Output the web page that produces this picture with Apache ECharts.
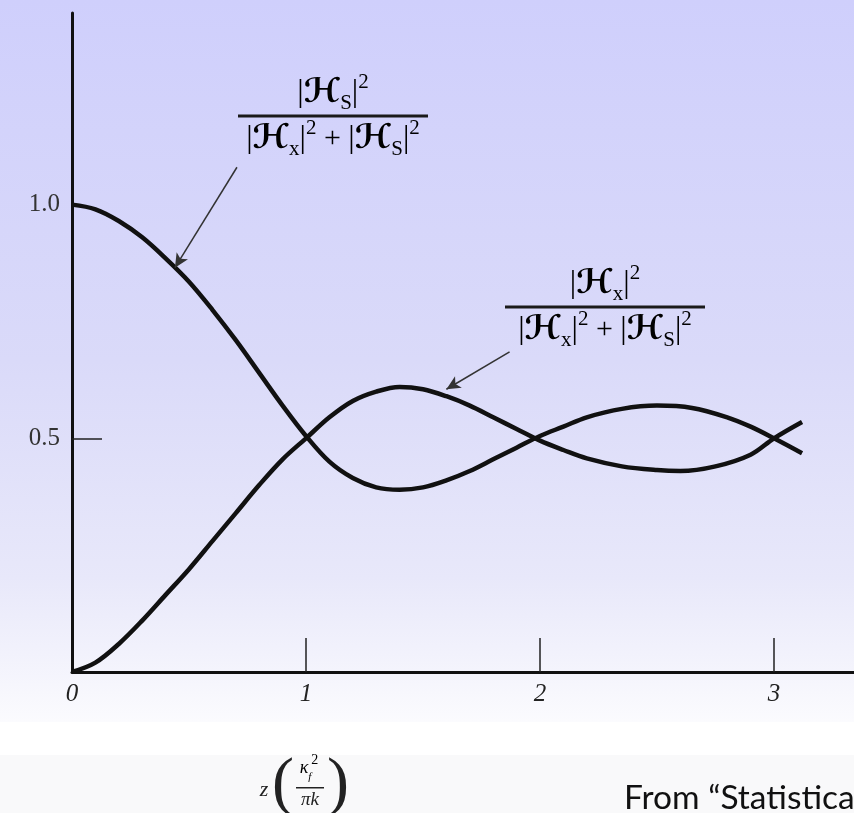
<!DOCTYPE html>
<html>
<head>
<meta charset="utf-8">
<script src="https://cdn.jsdelivr.net/npm/echarts@6/dist/echarts.min.js"></script>
<style>
  html, body { margin: 0; padding: 0; background: #ffffff; }
  #chart { width: 854px; height: 813px; }
</style>
</head>
<body>
<div id="chart"></div>
<script>
// z values (horizontal axis, in units of z·κf²/πk)
const zS = [0, 0.1, 0.2, 0.3, 0.4, 0.5, 0.6, 0.7, 0.8, 0.9, 1.0, 1.1, 1.2, 1.3, 1.4, 1.5, 1.6, 1.7, 1.8, 1.9, 2.0, 2.1, 2.2, 2.35, 2.5, 2.65, 2.8, 2.9, 3.0, 3.12];
// |Hs|^2 / (|Hx|^2 + |Hs|^2)
const fracS = [1.0, 0.99, 0.965, 0.93, 0.885, 0.835, 0.775, 0.71, 0.64, 0.57, 0.505, 0.45, 0.415, 0.395, 0.39, 0.395, 0.41, 0.43, 0.455, 0.48, 0.505, 0.525, 0.545, 0.563, 0.57, 0.565, 0.545, 0.525, 0.5, 0.468];

const zX = [0, 0.1, 0.2, 0.3, 0.4, 0.5, 0.6, 0.7, 0.8, 0.9, 1.0, 1.1, 1.2, 1.3, 1.4, 1.5, 1.6, 1.7, 1.8, 1.9, 2.0, 2.1, 2.2, 2.35, 2.5, 2.6, 2.75, 2.9, 3.0, 3.12];
// |Hx|^2 / (|Hx|^2 + |Hs|^2)
const fracX = [0, 0.02, 0.06, 0.11, 0.165, 0.22, 0.28, 0.34, 0.4, 0.455, 0.5, 0.545, 0.58, 0.6, 0.61, 0.605, 0.59, 0.57, 0.545, 0.52, 0.495, 0.475, 0.457, 0.44, 0.432, 0.43, 0.44, 0.465, 0.5, 0.535];

const xTickValues = [0, 1, 2, 3];
const yTickValues = [0.5];
const yLabelValues = [0.5, 1.0];

// pointer arrows: [tail, head] in data coordinates
const arrowS = [[0.705, 1.08], [0.44, 0.865]];
const arrowX = [[1.87, 0.685], [1.6, 0.605]];

const serif = '"Liberation Serif", "DejaVu Serif", serif';
const mathFont = '"DejaVu Serif", "DejaVu Sans", serif';

const chart = echarts.init(document.getElementById('chart'), null, { renderer: 'canvas' });

function pairs(xs, ys) { return xs.map((x, i) => [x, ys[i]]); }

// rich-text styles for the |H|^2 expressions
const richMath = {
  bar: { fontFamily: serif, fontSize: 32, color: '#1a1a1a', lineHeight: 38 },
  H: { fontFamily: mathFont, fontSize: 34, fontWeight: 'bold', fontStyle: 'italic', color: '#111', lineHeight: 38 },
  sub: { fontFamily: serif, fontSize: 21, color: '#1a1a1a', verticalAlign: 'bottom', lineHeight: 30 },
  sup: { fontFamily: serif, fontSize: 21, color: '#1a1a1a', verticalAlign: 'top', lineHeight: 42 },
  op: { fontFamily: serif, fontSize: 30, color: '#1a1a1a', lineHeight: 38 }
};

function fraction(cx, barY, barW, num, den) {
  return {
    type: 'group',
    children: [
      { type: 'text', x: cx, y: barY - 2, style: { text: num, rich: richMath, align: 'center', verticalAlign: 'bottom' } },
      { type: 'rect', shape: { x: cx - barW / 2, y: barY - 1.5, width: barW, height: 3 }, style: { fill: '#1a1a1a' } },
      { type: 'text', x: cx, y: barY + 2, style: { text: den, rich: richMath, align: 'center', verticalAlign: 'top' } }
    ]
  };
}

const option = {
  animation: false,
  grid: { left: 72, right: 0, top: 13, bottom: 141, containLabel: false },
  xAxis: {
    type: 'value', min: 0, max: 3.342,
    axisLine: { show: true, onZero: false, lineStyle: { color: '#111', width: 3 } },
    axisTick: { show: true, inside: true, length: 34, customValues: [1, 2, 3], lineStyle: { color: '#222', width: 1.5 } },
    axisLabel: {
      customValues: xTickValues, margin: 10,
      fontFamily: serif, fontStyle: 'italic', fontSize: 25, color: '#222'
    },
    splitLine: { show: false }
  },
  yAxis: {
    type: 'value', min: 0, max: 1.41,
    axisLine: { show: true, lineStyle: { color: '#111', width: 3 } },
    axisTick: { show: true, inside: true, length: 30, customValues: yTickValues, lineStyle: { color: '#222', width: 1.5 } },
    axisLabel: {
      customValues: yLabelValues, margin: 12,
      formatter: v => v.toFixed(1),
      fontFamily: serif, fontSize: 25, color: '#333'
    },
    splitLine: { show: false }
  },
  graphic: [
    // backdrop: lavender wash fading to white, then a pale strip underneath
    { type: 'rect', z: -10, silent: true, shape: { x: 0, y: 0, width: 854, height: 722 },
      style: { fill: new echarts.graphic.LinearGradient(0, 0, 0, 1, [
        { offset: 0, color: '#cfcffc' },
        { offset: 0.5, color: '#dadaf9' },
        { offset: 0.8, color: '#e8e8fa' },
        { offset: 1, color: '#fbfbfe' }
      ]) } },
    { type: 'rect', z: -10, silent: true, shape: { x: 0, y: 755, width: 854, height: 58 }, style: { fill: '#f9f9fa' } },

    fraction(333, 116, 190, '{bar||}{H|ℋ}{sub|S}{bar||}{sup|2}',
      '{bar||}{H|ℋ}{sub|x}{bar||}{sup|2}{op| + }{bar||}{H|ℋ}{sub|S}{bar||}{sup|2}'),
    fraction(605, 307, 200, '{bar||}{H|ℋ}{sub|x}{bar||}{sup|2}',
      '{bar||}{H|ℋ}{sub|x}{bar||}{sup|2}{op| + }{bar||}{H|ℋ}{sub|S}{bar||}{sup|2}'),

    // horizontal-axis caption z(κf² / πk)
    { type: 'group', children: [
      { type: 'text', x: 264, y: 790, style: { text: 'z', fontFamily: serif, fontStyle: 'italic', fontSize: 22, fill: '#222', align: 'center', verticalAlign: 'middle' } },
      { type: 'text', x: 283, y: 786, style: { text: '(', fontFamily: serif, fontSize: 66, fill: '#222', align: 'center', verticalAlign: 'middle' } },
      { type: 'text', x: 309, y: 783, style: { text: '{k|κ}{s|f}{p|2}', rich: {
          k: { fontFamily: serif, fontStyle: 'italic', fontSize: 18, color: '#222' },
          s: { fontFamily: serif, fontStyle: 'italic', fontSize: 11, color: '#222', verticalAlign: 'bottom', lineHeight: 22 },
          p: { fontFamily: serif, fontSize: 14, color: '#222', verticalAlign: 'top', lineHeight: 30 }
        }, align: 'center', verticalAlign: 'bottom' } },
      { type: 'rect', shape: { x: 296, y: 787, width: 28, height: 1.5 }, style: { fill: '#222' } },
      { type: 'text', x: 310, y: 790, style: { text: 'πk', fontFamily: serif, fontStyle: 'italic', fontSize: 19, fill: '#222', align: 'center', verticalAlign: 'top' } },
      { type: 'text', x: 338, y: 786, style: { text: ')', fontFamily: serif, fontSize: 66, fill: '#222', align: 'center', verticalAlign: 'middle' } }
    ] },

    { type: 'text', x: 624, y: 798, style: { text: 'From “Statistical', fontFamily: 'Lato, "Open Sans", sans-serif', fontSize: 33.5, fill: '#111', verticalAlign: 'middle' } }
  ],
  series: [
    {
      name: 'S', type: 'line', data: pairs(zS, fracS), smooth: 0.35, showSymbol: false,
      lineStyle: { color: '#111', width: 4.5 },
      markLine: {
        silent: true, animation: false, symbol: ['none', 'arrow'], symbolSize: [10, 14],
        lineStyle: { color: '#333', width: 1.5, type: 'solid' }, label: { show: false },
        data: [[{ coord: arrowS[0] }, { coord: arrowS[1] }]]
      }
    },
    {
      name: 'X', type: 'line', data: pairs(zX, fracX), smooth: 0.35, showSymbol: false,
      lineStyle: { color: '#111', width: 4.5 },
      markLine: {
        silent: true, animation: false, symbol: ['none', 'arrow'], symbolSize: [10, 14],
        lineStyle: { color: '#333', width: 1.5, type: 'solid' }, label: { show: false },
        data: [[{ coord: arrowX[0] }, { coord: arrowX[1] }]]
      }
    }
  ]
};

chart.setOption(option);
</script>
</body>
</html>
